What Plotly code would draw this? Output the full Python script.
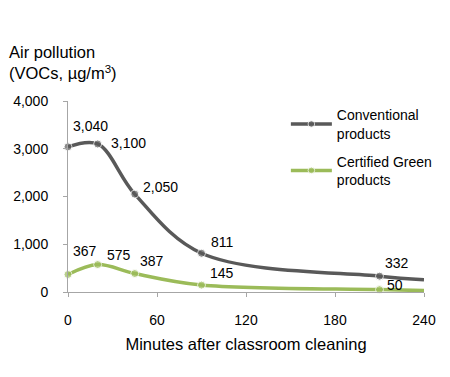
import plotly.graph_objects as go

minutes = [0, 20, 45, 90, 210, 240]
conventional = [3040, 3100, 2050, 811, 332, 257]
green = [367, 575, 387, 145, 50, 30]
labeled = [True, True, True, True, True, False]
x_ticks = [0, 60, 120, 180, 240]
y_ticks = [0, 1000, 2000, 3000, 4000]

DARK = "#595959"
GREEN = "#9BBB59"
FONT = "Liberation Sans, Arial, sans-serif"

fig = go.Figure()

def add_series(vals, name, color, group):
    sizes = [8 if l else 0 for l in labeled]
    fig.add_trace(go.Scatter(
        x=minutes, y=vals, name=name, mode="lines+markers", legendgroup=group,
        line=dict(color=color, width=3.5, shape="spline", smoothing=1),
        marker=dict(color=color, size=sizes),
        cliponaxis=False,
    ))

add_series(conventional, "Conventional<br>products", DARK, "a")
add_series(green, "Certified Green<br>products", GREEN, "b")

conv_shift = [(3, 21), (11, 1), (6, 7), (7, 11), (3, 13)]
green_shift = [(3, 23), (7, 10), (3, 13), (6, 12), (5, 5)]
for i, (xv, lab) in enumerate(zip(minutes, labeled)):
    if not lab:
        continue
    for vals, sh in ((conventional, conv_shift), (green, green_shift)):
        fig.add_annotation(x=xv, y=vals[i], text=f"{vals[i]:,}", showarrow=False,
                           xanchor="left", yanchor="middle",
                           xshift=sh[i][0], yshift=sh[i][1],
                           font=dict(size=14, color="black", family=FONT))

fig.add_annotation(xref="paper", yref="paper", x=-0.17, y=1.315,
                   text="Air pollution<br>(VOCs, µg/m<sup>3</sup>)",
                   showarrow=False, xanchor="left", yanchor="top", align="left",
                   font=dict(size=16.5, color="black", family=FONT))

fig.update_layout(
    width=450, height=377,
    margin=dict(l=60, r=34, t=93, b=93, autoexpand=False),
    paper_bgcolor="white", plot_bgcolor="white",
    font=dict(family=FONT, color="black"),
    showlegend=True,
    legend=dict(x=0.612, y=1.009, xanchor="left", yanchor="top",
                itemwidth=41,
                font=dict(size=14, color="black", family=FONT),
                tracegroupgap=7, bgcolor="rgba(0,0,0,0)"),
    xaxis=dict(range=[0, 240], tickvals=x_ticks, showgrid=False, zeroline=False,
               showline=True, linecolor="#A6A6A6", linewidth=1, automargin=False,
               ticks="outside", ticklen=4, tickcolor="#A6A6A6",
               ticklabelstandoff=11, tickfont=dict(size=14),
               title=dict(text="Minutes after classroom cleaning", font=dict(size=16.5), standoff=11)),
    yaxis=dict(range=[0, 4000], tickvals=y_ticks, tickformat=",", showgrid=False,
               zeroline=False, showline=True, linecolor="#A6A6A6", linewidth=1,
               automargin=False,
               ticks="outside", ticklen=4, tickcolor="#A6A6A6",
               ticklabelstandoff=12, tickfont=dict(size=14)),
)

fig.write_html("out.html")
